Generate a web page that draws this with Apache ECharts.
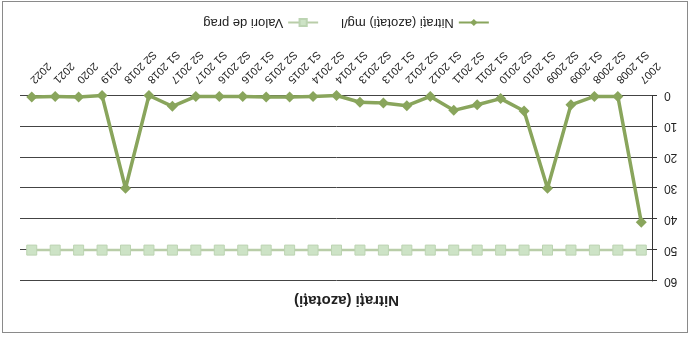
<!DOCTYPE html>
<html>
<head>
<meta charset="utf-8">
<script src="https://cdn.jsdelivr.net/npm/echarts@6/dist/echarts.min.js"></script>
<style>
  html, body { margin: 0; padding: 0; background: #ffffff; }
  #page { position: relative; width: 693px; height: 338px; overflow: hidden; background: #fff;
          transform: rotate(180deg); transform-origin: 50% 50%; }
  #frame { position: absolute; left: 5px; top: 5px; width: 686px; height: 332px;
           border: 1px solid #8a8a8a; box-sizing: border-box; }
  #chart { position: absolute; left: 0; top: 0; width: 693px; height: 338px; }
</style>
</head>
<body>
<div id="page">
  <div id="frame"></div>
  <div id="chart"></div>
</div>
<script>
// Sampling periods
const periods = ['2007', 'S1 2008', 'S2 2008', 'S1 2009', 'S2 2009', 'S1 2010', 'S2 2010',
  'S1 2011', 'S2 2011', 'S1 2012', 'S2 2012', 'S1 2013', 'S2 2013', 'S1 2014', 'S2 2014',
  'S1 2015', 'S2 2015', 'S1 2016', 'S2 2016', 'S1 2017', 'S2 2017', 'S1 2018', 'S2 2018',
  '2019', '2020', '2021', '2022'];

// Nitrate concentration, mg/l
const nitrati = [41, 0.3, 0.3, 3, 30, 5, 1, 3, 4.8, 0.3, 3.3, 2.4, 2.2, 0, 0.3,
  0.5, 0.5, 0.3, 0.3, 0.3, 3.5, 0, 30, 0, 0.5, 0.3, 0.5];

// Threshold value, mg/l
const prag = [50, 50, 50, 50, 50, 50, 50, 50, 50, 50, 50, 50, 50, 50, 50,
  50, 50, 50, 50, 50, 50, 50, 50, 50, 50, 50, 50];

const yTicks = { min: 0, max: 60, interval: 10 };

const font = 'Liberation Sans, Arial, sans-serif';
const chart = echarts.init(document.getElementById('chart'), null, { renderer: 'canvas' });

chart.setOption({
  animation: false,
  backgroundColor: 'transparent',
  title: {
    text: 'Nitrați (azotați)',
    left: 'center',
    top: 25,
    textStyle: { fontFamily: font, fontSize: 15, fontWeight: 'bold', color: '#222' }
  },
  legend: {
    bottom: 11,
    left: 'center',
    itemWidth: 30,
    itemHeight: 9,
    itemGap: 22,
    textStyle: { fontFamily: font, fontSize: 13, color: '#222' },
    data: ['Nitrați (azotați) mg/l', 'Valori de prag']
  },
  grid: { left: 40, right: 20, top: 57, bottom: 95.5, containLabel: false },
  xAxis: {
    type: 'category',
    data: periods,
    boundaryGap: true,
    axisLine: { show: false },
    axisTick: { show: false },
    axisLabel: {
      rotate: 45, margin: 14, interval: 0,
      fontFamily: font, fontSize: 11, color: '#222'
    }
  },
  yAxis: {
    type: 'value',
    min: yTicks.min, max: yTicks.max, interval: yTicks.interval,
    axisLine: { show: true, lineStyle: { color: '#333', width: 1 } },
    axisTick: { show: true, length: 4, lineStyle: { color: '#333' } },
    axisLabel: { margin: 11, fontFamily: font, fontSize: 12, color: '#222' },
    splitLine: { show: true, lineStyle: { color: '#444', width: 1 } }
  },
  series: [
    {
      name: 'Nitrați (azotați) mg/l',
      type: 'line',
      data: nitrati,
      symbol: 'diamond',
      symbolSize: 11,
      z: 3,
      lineStyle: { color: '#89a55c', width: 3.5 },
      itemStyle: { color: '#89a55c' }
    },
    {
      name: 'Valori de prag',
      type: 'line',
      data: prag,
      symbol: 'rect',
      symbolSize: 10,
      z: 2,
      lineStyle: { color: '#b9cda8', width: 2.5 },
      itemStyle: { color: '#cde3c6', borderColor: '#bcd4b2', borderWidth: 1 }
    }
  ]
});
</script>
</body>
</html>
